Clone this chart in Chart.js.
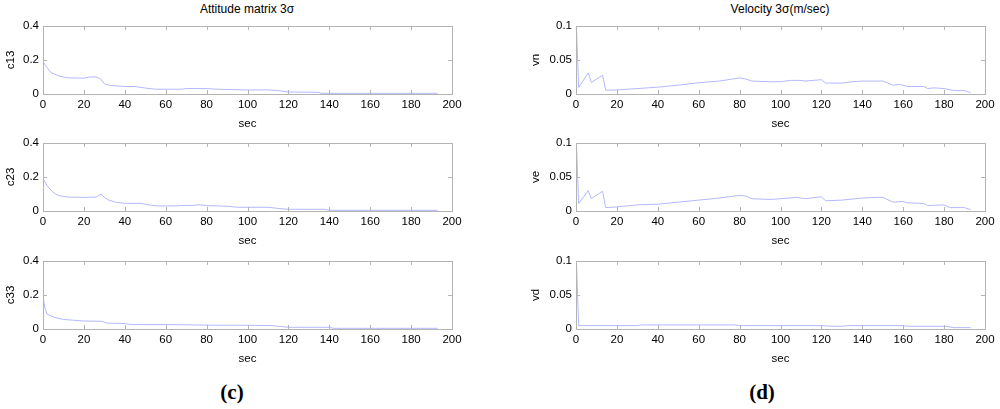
<!DOCTYPE html>
<html>
<head>
<meta charset="utf-8">
<script src="https://cdn.jsdelivr.net/npm/chart.js@4.4.1/dist/chart.umd.min.js"></script>
<style>
  body { margin: 0; background: #fff; width: 1000px; height: 409px; position: relative; overflow: hidden; }
  canvas { position: absolute; }
  .ttl { position: absolute; font: 12px "Liberation Sans", Arial, sans-serif; color: #000; white-space: nowrap; transform: translateX(-50%); }
  .lbl { position: absolute; font: bold 21px "Liberation Serif", "Times New Roman", serif; color: #000; transform: translateX(-50%); }
</style>
</head>
<body>
<div class="ttl" style="left:247px; top:2px;">Attitude matrix 3σ</div>
<div class="ttl" style="left:780px; top:2px;">Velocity 3σ(m/sec)</div>
<div class="lbl" style="left:232px; top:380px;">(c)</div>
<div class="lbl" style="left:762px; top:380px;">(d)</div>

<canvas id="c13" width="480" height="120"></canvas>
<canvas id="c23" width="480" height="120"></canvas>
<canvas id="c33" width="480" height="120"></canvas>
<canvas id="vn" width="475" height="120"></canvas>
<canvas id="ve" width="475" height="120"></canvas>
<canvas id="vd" width="475" height="120"></canvas>

<script>
// time (sec) and 3-sigma values
var t13 = [0, 2, 4, 8, 12, 20, 23, 26, 28, 30, 33, 40, 45, 50, 55, 68, 70, 80, 85, 95, 100, 110, 115, 120, 135, 136, 193];
var c13 = [0.19, 0.155, 0.125, 0.105, 0.095, 0.093, 0.1, 0.1, 0.09, 0.06, 0.05, 0.044, 0.044, 0.035, 0.028, 0.028, 0.032, 0.032, 0.028, 0.025, 0.024, 0.024, 0.02, 0.012, 0.01, 0.004, 0.004];

var t23 = [0, 2, 4, 6, 8, 12, 20, 26, 28.5, 30, 32, 36, 40, 48, 52, 56, 66, 68, 74, 76, 80, 90, 95, 110, 115, 120, 138, 140, 193];
var c23 = [0.19, 0.15, 0.12, 0.1, 0.09, 0.082, 0.08, 0.082, 0.1, 0.08, 0.065, 0.05, 0.045, 0.045, 0.035, 0.03, 0.03, 0.033, 0.033, 0.037, 0.032, 0.028, 0.022, 0.022, 0.015, 0.01, 0.01, 0.004, 0.004];

var t33 = [0, 1, 2, 5, 10, 20, 29, 31, 40, 43, 60, 85, 100, 112, 115, 120, 140, 142, 193];
var c33 = [0.19, 0.12, 0.088, 0.07, 0.056, 0.047, 0.045, 0.035, 0.032, 0.026, 0.026, 0.022, 0.022, 0.02, 0.016, 0.01, 0.01, 0.004, 0.004];

var tvn = [0.2, 1.3, 6, 7.5, 13, 14.5, 20, 30, 40, 50, 60, 70, 80, 83, 86, 95, 100, 105, 110, 112, 120, 122, 130, 135, 140, 150, 155, 158, 160, 162, 170, 172, 175, 180, 185, 190, 193];
var vn = [0.1, 0.0095, 0.031, 0.017, 0.0275, 0.0055, 0.006, 0.008, 0.01, 0.013, 0.0165, 0.019, 0.0235, 0.022, 0.019, 0.018, 0.018, 0.02, 0.02, 0.019, 0.021, 0.016, 0.016, 0.018, 0.019, 0.019, 0.013, 0.014, 0.013, 0.011, 0.011, 0.008, 0.009, 0.008, 0.005, 0.005, 0.002];

var tve = [0.2, 1.3, 6, 7.5, 13, 14.5, 20, 30, 40, 50, 60, 70, 80, 83, 86, 95, 100, 108, 112, 120, 122, 130, 140, 148, 150, 155, 160, 162, 170, 172, 180, 183, 190, 193];
var ve = [0.1, 0.011, 0.03, 0.018, 0.029, 0.005, 0.006, 0.009, 0.01, 0.013, 0.016, 0.019, 0.023, 0.022, 0.018, 0.017, 0.018, 0.02, 0.018, 0.021, 0.015, 0.016, 0.019, 0.02, 0.02, 0.013, 0.014, 0.012, 0.011, 0.008, 0.009, 0.005, 0.005, 0.002];

var tvd = [0.2, 1.3, 30, 32, 78, 80, 120, 125, 130, 133, 160, 162, 180, 185, 193];
var vd = [0.1, 0.005, 0.005, 0.006, 0.006, 0.005, 0.005, 0.004, 0.004, 0.005, 0.005, 0.004, 0.004, 0.002, 0.002];

var secTicks = [0, 20, 40, 60, 80, 100, 120, 140, 160, 180, 200];

// box + inward ticks, matlab style
var boxPlugin = {
  id: 'box',
  afterDraw: function (chart) {
    var a = chart.chartArea, ctx = chart.ctx;
    var xs = chart.scales.x, ys = chart.scales.y;
    ctx.save();
    ctx.strokeStyle = '#b4b4b4';
    ctx.lineWidth = 1;
    ctx.strokeRect(Math.round(a.left) + 0.5, Math.round(a.top) + 0.5, Math.round(a.right - a.left), Math.round(a.bottom - a.top));
    ctx.beginPath();
    xs.ticks.forEach(function (tk) {
      var px = Math.round(xs.getPixelForValue(tk.value)) + 0.5;
      ctx.moveTo(px, a.bottom); ctx.lineTo(px, a.bottom - 4);
      ctx.moveTo(px, a.top); ctx.lineTo(px, a.top + 4);
    });
    ys.ticks.forEach(function (tk) {
      var py = Math.round(ys.getPixelForValue(tk.value)) + 0.5;
      ctx.moveTo(a.left, py); ctx.lineTo(a.left + 4, py);
      ctx.moveTo(a.right, py); ctx.lineTo(a.right - 4, py);
    });
    ctx.stroke();
    ctx.restore();
  }
};

function makePanel(id, left, top, yw, rightPad, xs, ys, name, ymax, ystep) {
  var cv = document.getElementById(id);
  cv.style.left = left + 'px';
  cv.style.top = (top - 8) + 'px';
  var pts = xs.map(function (x, i) { return { x: x, y: ys[i] }; });
  var font = { family: '"Liberation Sans", Arial, sans-serif', size: 11.5 };
  return new Chart(cv, {
    type: 'line',
    data: { datasets: [{ data: pts, borderColor: '#b4b8ff', borderWidth: 1, pointRadius: 0, tension: 0 }] },
    options: {
      responsive: false,
      animation: false,
      layout: { padding: { top: 8, right: rightPad, left: 0, bottom: 0 } },
      plugins: { legend: { display: false }, tooltip: { enabled: false } },
      scales: {
        x: {
          type: 'linear', min: 0, max: 200,
          afterBuildTicks: function (s) { s.ticks = secTicks.map(function (v) { return { value: v }; }); },
          afterFit: function (s) { s.height = 41; },
          grid: { display: false, drawTicks: false },
          border: { display: false },
          ticks: { color: '#000', font: font, padding: 4, maxRotation: 0, autoSkip: false },
          title: { display: true, text: 'sec', color: '#000', font: font, padding: { top: 0 } }
        },
        y: {
          min: 0, max: ymax,
          ticks: {
            stepSize: ystep, color: '#000', font: font, padding: 4,
            callback: function (v) { return String(Math.round(v * 1000) / 1000); }
          },
          afterFit: function (s) { s.width = yw; },
          grid: { display: false, drawTicks: false },
          border: { display: false },
          title: { display: true, text: name, color: '#000', font: font, padding: { top: 4, bottom: 0 } }
        }
      }
    },
    plugins: [boxPlugin]
  });
}

var tops = [23, 140, 258];
makePanel('c13', 0, tops[0], 43, 28, t13, c13, 'c13', 0.4, 0.2);
makePanel('c23', 0, tops[1], 43, 28, t23, c23, 'c23', 0.4, 0.2);
makePanel('c33', 0, tops[2], 43, 28, t33, c33, 'c33', 0.4, 0.2);
makePanel('vn', 525, tops[0], 51, 15, tvn, vn, 'vn', 0.1, 0.05);
makePanel('ve', 525, tops[1], 51, 15, tve, ve, 've', 0.1, 0.05);
makePanel('vd', 525, tops[2], 51, 15, tvd, vd, 'vd', 0.1, 0.05);
</script>
</body>
</html>
